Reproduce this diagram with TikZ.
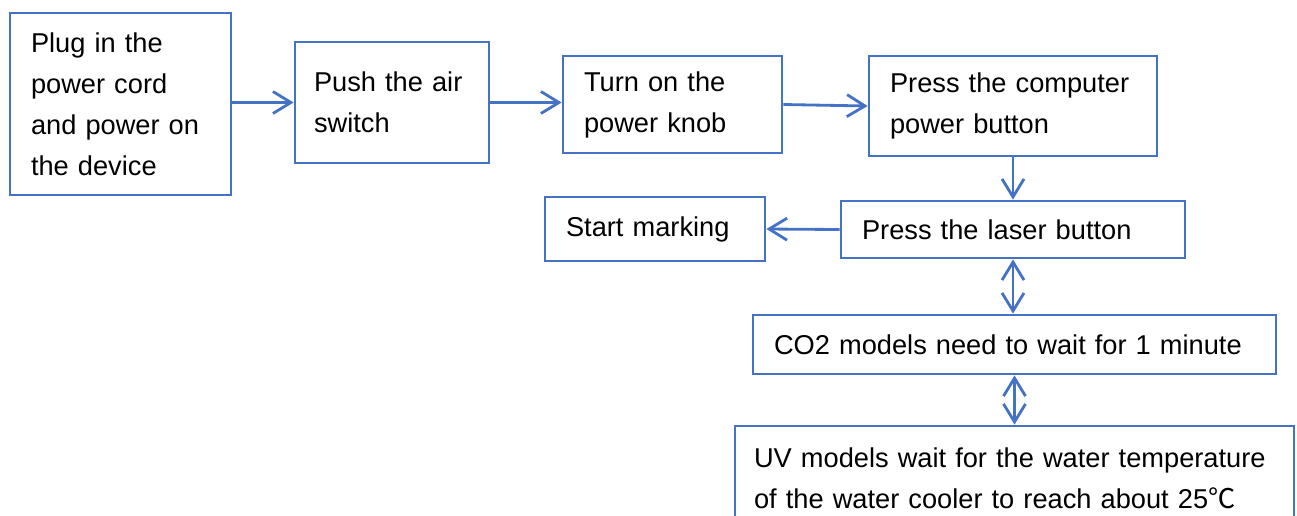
\documentclass[tikz,border=0pt]{standalone}
\usepackage{fontspec}
\setmainfont{Liberation Sans}
\newfontfamily\cjk{Noto Sans CJK SC}
\usepackage{xcolor}
\usetikzlibrary{arrows.meta,positioning}

\definecolor{flowblue}{RGB}{68,114,196}
\newcommand{\boxfont}{\fontsize{15.5}{23.3}\selectfont}

\begin{document}
\begin{tikzpicture}[x=0.02cm, y=-0.02cm,
    stepbox/.style={draw=flowblue, line width=1.6pt, align=left, inner xsep=0.42cm,
        font=\boxfont},
    link/.style={draw=flowblue, line width=1.6pt, -{Straight Barb[length=0.36cm,width=0.44cm]}},
    twolink/.style={link, {Straight Barb[length=0.36cm,width=0.44cm]}-{Straight Barb[length=0.36cm,width=0.44cm]}}]

    \useasboundingbox (0,0) rectangle (1297,515);
    \clip (0,0) rectangle (1297,515);

    % top row
    \node[stepbox, text width=3.58cm, minimum height=3.64cm] (plug) at (120.5,104)
        {Plug in the\\power cord\\and power on\\the device};
    \node[stepbox, inner xsep=0.38cm, text width=3.12cm, minimum height=2.42cm] (air) at (392,102.5)
        {Push the air\\switch};
    \node[stepbox, text width=3.54cm, minimum height=1.94cm] (knob) at (672.5,104.5)
        {Turn on the\\power knob};
    \node[stepbox, text width=4.92cm, minimum height=2.0cm] (pc) at (1013,106)
        {Press the computer\\power button};

    % laser and marking
    \node[stepbox, text width=6.04cm, minimum height=1.14cm] (laser) at (1013,229.5)
        {Press the laser button};
    \node[stepbox, text width=3.56cm, minimum height=1.28cm] (mark) at (655,229)
        {Start marking};

    % waiting conditions
    \node[stepbox, text width=9.62cm, minimum height=1.18cm] (co2) at (1014.5,344.5)
        {CO2 models need to wait for 1 minute};
    \node[stepbox, inner xsep=0.38cm, text width=10.42cm, minimum height=2.1cm] (uv) at (1014.5,478.5)
        {UV models wait for the water temperature\\of the water cooler to reach about 25{\cjk ℃}};

    \draw[link] (plug.east |- air.west) -- (air.west);
    \draw[link] (air.east) -- (air.east -| knob.west);
    \draw[link] (knob.east) -- (pc.west);
    \draw[link] (pc.south) -- (laser.north);
    \draw[link] (laser.west) -- (mark.east);
    \draw[twolink] (laser.south) -- (laser.south |- co2.north);
    \draw[twolink] (co2.south) -- (co2.south |- uv.north);

\end{tikzpicture}
\end{document}
